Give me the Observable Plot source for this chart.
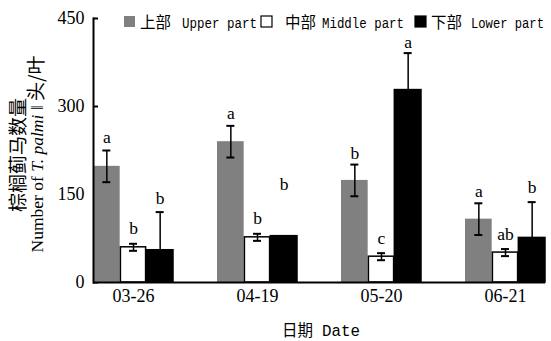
<!DOCTYPE html>
<html><head><meta charset="utf-8">
<script src="https://cdn.jsdelivr.net/npm/d3@7"></script>
<script src="https://cdn.jsdelivr.net/npm/@observablehq/plot@0.6"></script>
<style>body{margin:0;background:#fff} #chart{width:551px;height:341px}</style>
</head><body><div id="chart"></div>
<script>
const dates = ["03-26", "04-19", "05-20", "06-21"];
const partNames = ["上部 Upper part", "中部 Middle part", "下部 Lower part"];
const upperMean = [198, 240, 174, 108];
const upperErr = [27, 27, 27, 27];
const middleMean = [60, 77, 44, 51];
const middleErr = [6, 6, 6, 6];
const lowerMean = [55, 79, 328, 76];
const lowerErr = [65, 0, 63, 61];
const upperLetters = ["a", "a", "b", "a"];
const middleLetters = ["b", "b", "c", "ab"];
const lowerLetters = ["b", "b", "a", "b"];
const upperLetterAt = [238, 278, 211, 145];
const middleLetterAt = [83, 100, 66, 72];
const lowerLetterAt = [134, 158, 400, 153];
const yTicks = [0, 150, 300, 450];

const W = 551, H = 341, ML = 93, MR = 6, MT = 18, MB = 59;
const xOpts = {type: "band", domain: dates, paddingInner: 0.355, paddingOuter: 0};
const bw = Plot.scale({x: {...xOpts, range: [ML, W - MR]}}).bandwidth;
const third = bw / 3;
const capW = 8;

const series = [
  {mean: upperMean, err: upperErr, letters: upperLetters, at: upperLetterAt, fill: "#808080", stroke: "none"},
  {mean: middleMean, err: middleErr, letters: middleLetters, at: middleLetterAt, fill: "#ffffff", stroke: "#000"},
  {mean: lowerMean, err: lowerErr, letters: lowerLetters, at: lowerLetterAt, fill: "#000000", stroke: "#000"}
];

const marks = [];
series.forEach((s, p) => {
  const rows = dates.map((d, i) => ({date: d, part: partNames[p], mean: s.mean[i], err: s.err[i], letter: s.letters[i], at: s.at[i]}));
  const withErr = rows.filter(r => r.err > 0);
  const capInL = p * third + (third - capW) / 2;
  const capInR = (2 - p) * third + (third - capW) / 2;
  marks.push(Plot.barY(rows, {x: "date", y: "mean", fill: s.fill, stroke: s.stroke, strokeWidth: 1.5,
    insetLeft: p * third + (p === 1 ? 0.75 : 0), insetRight: (2 - p) * third + (p === 1 ? 0.75 : 0)}));
  marks.push(Plot.ruleX(withErr, {x: "date", y1: r => Math.max(0, r.mean - r.err), y2: r => r.mean + r.err,
    dx: (p - 1) * third, stroke: "#000", strokeWidth: 1.5}));
  marks.push(Plot.tickY(withErr, {x: "date", y: r => r.mean + r.err, insetLeft: capInL, insetRight: capInR, stroke: "#000", strokeWidth: 2}));
  marks.push(Plot.tickY(withErr.filter(r => r.mean - r.err >= 0), {x: "date", y: r => r.mean - r.err, insetLeft: capInL, insetRight: capInR, stroke: "#000", strokeWidth: 2}));
  marks.push(Plot.text(rows, {x: "date", y: "at", text: "letter", dx: (p - 1) * third, lineAnchor: "bottom",
    fontSize: 17.5, fontFamily: "Liberation Serif", fill: "#000"}));
});

const plot = Plot.plot({
  width: W, height: H, marginLeft: ML, marginRight: MR, marginTop: MT, marginBottom: MB,
  style: {fontFamily: "Liberation Serif", fontSize: "18px", color: "#000", background: "#fff"},
  x: {...xOpts, label: null},
  y: {domain: [0, 450], label: null},
  marks: [
    Plot.axisY({ticks: yTicks, tickSize: -5, tickPadding: 14, strokeWidth: 2, label: null, fontSize: 18}),
    Plot.axisX({tickSize: 0, tickPadding: 7, label: null, fontSize: 18}),
    ...marks,
    Plot.ruleY([0], {stroke: "#000", strokeWidth: 2}),
    Plot.frame({anchor: "left", stroke: "#000", strokeWidth: 2})
  ]
});
document.getElementById("chart").appendChild(plot);

// Legend, axis titles
const svg = d3.select(plot);
const cjk = "'Noto Sans CJK SC'";
const legendItems = [
  {rx: 124, tx: 140, lx: 182, lw: 75, fill: "#808080", stroke: "none", name: partNames[0]},
  {rx: 261, tx: 285, lx: 322, lw: 82, fill: "#ffffff", stroke: "#000", name: partNames[1]},
  {rx: 415, tx: 431, lx: 471, lw: 73, fill: "#000000", stroke: "#000", name: partNames[2]}
];
const lg = svg.append("g").attr("text-anchor", "start").attr("fill", "#000");
const legFs = 14.5;
legendItems.forEach(it => {
  lg.append("rect").attr("x", it.rx).attr("y", 16).attr("width", 11).attr("height", 11)
    .attr("fill", it.fill).attr("stroke", it.stroke).attr("stroke-width", 1.2);
  const [zh, ...en] = it.name.split(" ");
  const label = en.join(" ");
  lg.append("text").attr("x", it.tx).attr("y", 27.5).attr("font-family", cjk).attr("font-size", 15.5).text(zh);
  const sx = it.lw / (label.length * 0.6 * legFs);
  lg.append("text").attr("transform", `translate(${it.lx},27.5) scale(${sx},1)`)
    .attr("font-family", "'Liberation Mono'").attr("font-size", legFs).text(label);
});

const yt = svg.append("g").attr("fill", "#000");
yt.append("text").attr("transform", "translate(16,155) rotate(-90)").attr("text-anchor", "middle")
  .attr("dominant-baseline", "central").attr("font-family", cjk).attr("font-size", 19).text("棕榈蓟马数量");
const t2 = yt.append("text").attr("transform", "translate(43,154) rotate(-90)").attr("text-anchor", "middle");
t2.append("tspan").attr("font-family", "'Liberation Serif'").attr("font-size", 17.5).text("Number of ");
t2.append("tspan").attr("font-family", "'Liberation Serif'").attr("font-style", "italic").attr("font-size", 17.5).text("T. palmi");
t2.append("tspan").attr("font-family", "'Liberation Serif'").attr("font-size", 17.5).text(" ‖ ");
t2.append("tspan").attr("font-family", cjk).attr("font-size", 19).text("头/叶");

const xt = svg.append("g").attr("fill", "#000").attr("text-anchor", "start");
xt.append("text").attr("x", 282).attr("y", 336).attr("font-family", cjk).attr("font-size", 15.5).text("日期");
xt.append("text").attr("transform", `translate(322,336) scale(${38 / (4 * 0.6 * 17)},1)`)
  .attr("font-family", "'Liberation Mono'").attr("font-size", 17).text("Date");
</script>
</body></html>
